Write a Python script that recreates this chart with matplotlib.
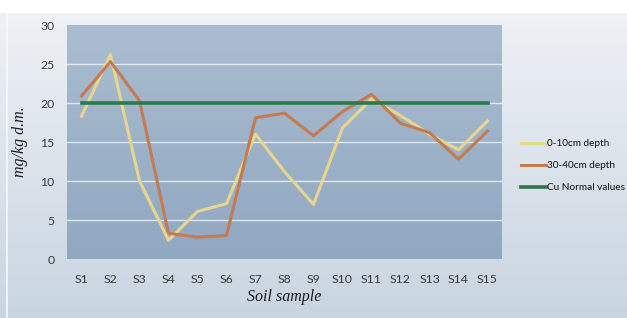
import numpy as np
import matplotlib
matplotlib.use("Agg")
import matplotlib.pyplot as plt
from matplotlib.colors import LinearSegmentedColormap

# chart data
samples = ["S1", "S2", "S3", "S4", "S5", "S6", "S7", "S8", "S9", "S10",
           "S11", "S12", "S13", "S14", "S15"]
depth_0_10 = [18.3, 26.2, 10.0, 2.4, 6.1, 7.1, 16.0, 11.2, 7.0, 16.8,
              20.5, 18.4, 16.0, 14.0, 17.7]
depth_30_40 = [20.9, 25.3, 20.3, 3.3, 2.8, 3.0, 18.1, 18.7, 15.8, 18.9,
               21.1, 17.4, 16.2, 12.8, 16.4]
cu_normal = [20] * 15
yticks = [0, 5, 10, 15, 20, 25, 30]

fig = plt.figure(figsize=(6.27, 3.18), dpi=100)

# figure background gradient (white strip on top)
bg = fig.add_axes([0, 0, 1, 1], zorder=-10)
bg_cmap = LinearSegmentedColormap.from_list("bg", ["#c9d5e1", "#eef1f5"])
grad = np.linspace(0, 1, 256).reshape(-1, 1)
bg.imshow(grad, cmap=bg_cmap, aspect="auto", origin="lower",
          extent=[0, 1, 0, 1 - 13 / 318])
bg.axvline(7 / 627, ymax=1 - 13 / 318, color="#f7f9fb", lw=1.2)
bg.set_xlim(0, 1)
bg.set_ylim(0, 1)
bg.axis("off")

ax = fig.add_axes([67 / 627, 1 - 259 / 318, 435 / 627, 234 / 318])
x = np.arange(len(samples))

# plot area gradient
pa_cmap = LinearSegmentedColormap.from_list("pa", ["#91a8c1", "#aabdd0"])
ax.imshow(grad, cmap=pa_cmap, aspect="auto", origin="lower",
          extent=[-0.5, 14.5, 0, 30], zorder=0)

for yv in yticks[1:-1]:
    ax.axhline(yv, color="#dfe7ef", lw=1.0, zorder=1)

ax.plot(x, depth_0_10, color="#e9d68e", lw=2.2, label="0-10cm depth", zorder=3)
ax.plot(x, depth_30_40, color="#c57a50", lw=2.2, label="30-40cm depth", zorder=4)
ax.plot(x, cu_normal, color="#2a7a4a", lw=2.6, label="Cu Normal values", zorder=5)

ax.set_xlim(-0.5, 14.5)
ax.set_ylim(0, 30)
ax.set_xticks(x)
ax.set_xticklabels(samples)
ax.set_yticks(yticks)
ax.tick_params(length=0, labelsize=8.8, labelcolor="#3a3a3a")
ax.tick_params(axis="x", pad=11)
ax.tick_params(axis="y", pad=9)
for lbl in ax.get_xticklabels() + ax.get_yticklabels():
    lbl.set_family("Lato")
for s in ax.spines.values():
    s.set_visible(False)

ax.set_xlabel("Soil sample", fontsize=11.5, fontstyle="italic",
              family="Liberation Serif", color="#1a1a1a", labelpad=3)
ax.set_ylabel("mg/kg d.m.", fontsize=11.5, fontstyle="italic",
              family="Liberation Serif", color="#1a1a1a", labelpad=9)

leg = fig.legend(loc="upper left", bbox_to_anchor=(512 / 627, 1 - 130 / 318),
                 frameon=False, handlelength=2.5, handletextpad=0.1,
                 labelspacing=1.3, prop={"family": "Lato", "size": 7.2})
for t in leg.get_texts():
    t.set_color("#111111")

fig.savefig("out.png", dpi=100)
